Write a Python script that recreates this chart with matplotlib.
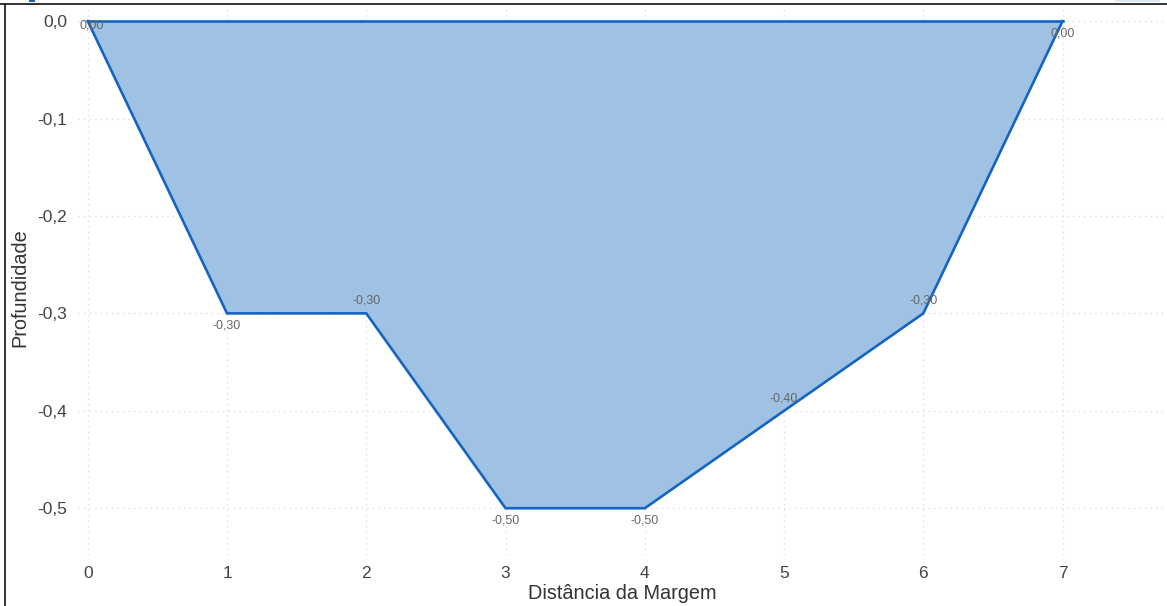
import matplotlib
matplotlib.use("Agg")
import matplotlib.pyplot as plt
from matplotlib.lines import Line2D
from matplotlib.patches import Rectangle

plt.rcParams['font.family'] = ['Liberation Sans', 'DejaVu Sans']

# Cross-section of the channel: distance from the bank vs depth
distancia = [0, 1, 2, 3, 4, 5, 6, 7]
profundidade = [0.00, -0.30, -0.30, -0.50, -0.50, -0.40, -0.30, 0.00]
x_ticks = [0, 1, 2, 3, 4, 5, 6, 7]
y_ticks = [0.0, -0.1, -0.2, -0.3, -0.4, -0.5]

# Offsets (in points) for the value labels at each vertex
label_offsets = [(3, -3), (0, -9), (0, 9), (0, -9), (0, -9), (0, 9), (0, 9), (0, -9)]

fig = plt.figure(figsize=(11.67, 6.06), dpi=100)
ax = fig.add_axes([78 / 1167, 1 - 555 / 606, 1 - 78 / 1167, (555 - 5) / 606])

line_color = '#1565c0'
fill_color = '#9fc2e4'

ax.fill_between(distancia, profundidade, 0, color=fill_color, lw=0, zorder=2)
ax.plot(distancia, profundidade, color=line_color, lw=1.9, zorder=3,
        solid_joinstyle='miter')
ax.plot([distancia[0], distancia[-1]], [0, 0], color=line_color, lw=1.9, zorder=3)

for xv, yv, (dx, dy) in zip(distancia, profundidade, label_offsets):
    ax.annotate(f"{yv:.2f}".replace('.', ','), (xv, yv), xytext=(dx, dy),
                textcoords='offset points', ha='center', va='center',
                fontsize=9, color='#666666', zorder=4)

ax.set_xlim(-0.07, 7.75)
ax.set_ylim(-0.548, 0.0165)
ax.set_xticks(x_ticks)
ax.set_yticks(y_ticks)
ax.set_xticklabels([str(v) for v in x_ticks])
ax.set_yticklabels([f"{v:.1f}".replace('.', ',') for v in y_ticks])
ax.tick_params(length=0, labelsize=12.5, colors='#444444', pad=8)
ax.tick_params(axis='x', pad=8)
ax.grid(True, color='#dddddd', linestyle=(0, (1, 3)), lw=1.0, zorder=0)
for s in ax.spines.values():
    s.set_visible(False)

ax.set_xlabel('Distância da Margem', fontsize=14.3, color='#333333', labelpad=2)
ax.set_ylabel('Profundidade', fontsize=14.3, color='#333333')
ax.yaxis.set_label_coords(-0.045, 0.487)

# Page frame around the chart
fig.add_artist(Line2D([5 / 1167, 5 / 1167], [0, 1 - 4 / 606], color='#222222', lw=1.3,
                      transform=fig.transFigure))
fig.add_artist(Line2D([0, 1], [1 - 4 / 606, 1 - 4 / 606], color='#222222', lw=1.3,
                      transform=fig.transFigure))
fig.add_artist(Rectangle((29 / 1167, 1 - 2 / 606), 6 / 1167, 2 / 606, color='#1f5fa8',
                         transform=fig.transFigure, lw=0))
fig.add_artist(Rectangle((1115 / 1167, 1 - 1.5 / 606), 45 / 1167, 1.5 / 606, color='#dce8f5',
                         transform=fig.transFigure, lw=0))

fig.savefig('out.png', dpi=100)
